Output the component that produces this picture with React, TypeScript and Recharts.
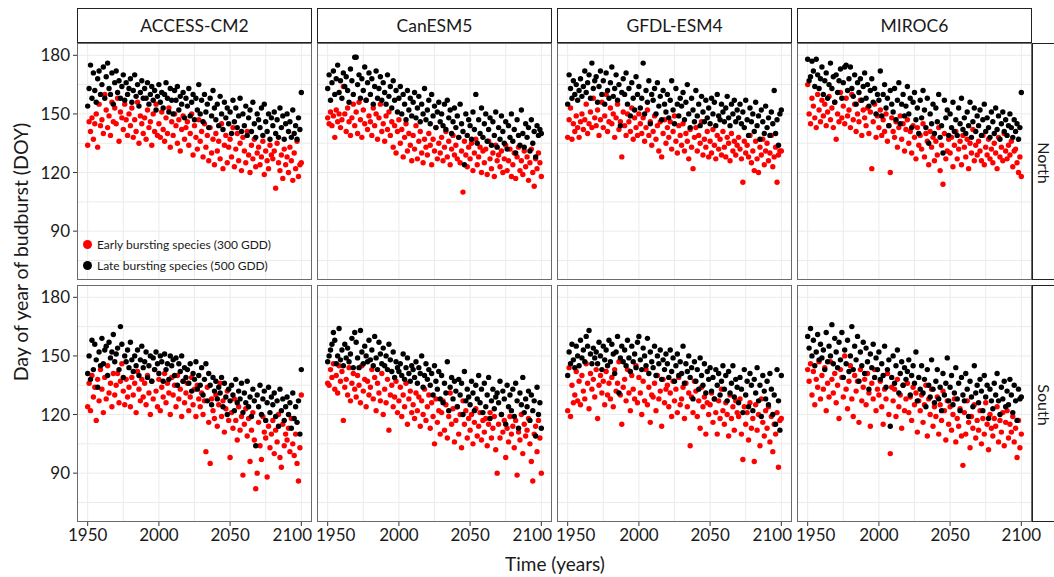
import { ScatterChart, Scatter, XAxis, YAxis, CartesianGrid } from 'recharts';

const YEARS = Array.from({ length: 151 }, (_, i) => 1950 + i);
const MODELS = ['ACCESS-CM2', 'CanESM5', 'GFDL-ESM4', 'MIROC6'];
const REGIONS = ['North', 'South'];
const X_TICKS = [1950, 2000, 2050, 2100];
const X_MINOR = [1975, 2025, 2075];
const Y_TICKS = [90, 120, 150, 180];
const Y_MINOR = [75, 105, 135, 165];

// day of year of budburst, one value per year 1950..2100
const accessNorthEarly = [
  134, 146, 141, 148, 137, 145, 150, 133, 155, 144,
  147, 140, 160, 152, 143, 149, 139, 156, 146, 153,
  145, 158, 136, 151, 148, 142, 155, 147, 139, 150,
  144, 153, 138, 147, 141, 156, 135, 149, 145, 140,
  148, 137, 152, 143, 146, 134, 150, 141, 155, 139,
  145, 138, 151, 142, 136, 148, 140, 153, 133, 146,
  139, 150, 144, 135, 147, 131, 142, 149, 137, 143,
  146, 134, 140, 150, 129, 144, 138, 132, 147, 136,
  141, 128, 145, 133, 139, 126, 143, 130, 137, 124,
  140, 131, 136, 127, 145, 122, 134, 139, 125, 133,
  137, 128, 143, 123, 132, 140, 126, 135, 121, 138,
  131, 125, 141, 129, 120, 134, 127, 137, 123, 130,
  133, 124, 128, 136, 119, 131, 126, 122, 134, 129,
  127, 131, 112, 135, 125, 121, 129, 117, 132, 124,
  128, 120, 133, 126, 116, 130, 122, 136, 118, 124,
  125,
];
const accessNorthLate = [
  154, 163, 175, 158, 171, 162, 156, 168, 172, 160,
  165, 174, 158, 169, 176, 163, 160, 171, 155, 166,
  172, 161, 167, 158, 164, 170, 157, 166, 160, 163,
  168, 156, 162, 170, 159, 165, 154, 161, 167, 158,
  163, 158, 166, 155, 160, 164, 157, 162, 152, 159,
  165, 156, 161, 153, 160, 166, 158, 151, 163, 157,
  150, 162, 157, 164, 152, 159, 155, 161, 148, 158,
  154, 163, 149, 156, 160, 147, 158, 152, 165, 150,
  157, 146, 160, 151, 155, 143, 158, 149, 162, 153,
  147, 155, 144, 159, 150, 142, 156, 148, 153, 145,
  151, 140, 157, 146, 153, 143, 149, 158, 141, 150,
  144, 154, 139, 148, 152, 141, 156, 145, 138, 150,
  147, 143, 153, 139, 155, 146, 141, 150, 137, 148,
  144, 151, 140, 147, 138, 153, 143, 149, 137, 145,
  150, 141, 146, 138, 152, 140, 144, 137, 148, 142,
  161,
];
const canNorthEarly = [
  148, 145, 151, 144, 149, 138, 152, 146, 150, 143,
  147, 164, 150, 141, 153, 146, 139, 148, 155, 144,
  151, 140, 156, 147, 138, 152, 145, 157, 142, 149,
  146, 139, 153, 144, 150, 137, 148, 155, 141, 145,
  136, 149, 142, 151, 139, 146, 133, 144, 130, 141,
  147, 135, 142, 128, 138, 145, 131, 140, 134, 126,
  139, 132, 144, 127, 136, 141, 130, 125, 137, 133,
  129, 140, 134, 124, 137, 131, 143, 127, 135, 130,
  138, 126, 133, 141, 128, 136, 124, 132, 139, 129,
  134, 127, 138, 125, 131, 110, 136, 129, 123, 133,
  127, 135, 121, 130, 137, 124, 128, 133, 120, 131,
  125, 132, 119, 136, 127, 122, 130, 118, 134, 126,
  129, 123, 131, 120, 127, 134, 121, 126, 132, 118,
  124, 130, 117, 128, 133, 121, 126, 119, 131, 123,
  128, 116, 125, 132, 120, 113, 127, 122, 130, 125,
  118,
];
const canNorthLate = [
  163, 170, 157, 166, 172, 160, 168, 175, 161, 167,
  158, 171, 164, 169, 162, 156, 173, 167, 160, 179,
  179, 165, 170, 158, 168, 162, 174, 157, 166, 171,
  160, 168, 155, 164, 172, 158, 163, 169, 157, 166,
  161, 155, 170, 159, 164, 153, 167, 157, 162, 151,
  158, 164, 150, 160, 155, 147, 162, 152, 158, 149,
  156, 161, 148, 153, 159, 146, 155, 150, 163, 147,
  152, 157, 145, 160, 149, 154, 143, 151, 156, 146,
  150, 144, 155, 142, 157, 148, 152, 140, 146, 153,
  143, 149, 138, 155, 145, 141, 124, 150, 139, 147,
  144, 137, 151, 142, 160, 135, 147, 140, 153, 138,
  145, 150, 136, 142, 148, 134, 146, 139, 151, 133,
  143, 137, 149, 141, 135, 146, 132, 144, 138, 150,
  136, 142, 130, 147, 139, 134, 152, 140, 133, 145,
  138, 143, 131, 147, 135, 141, 128, 144, 139, 142,
  140,
];
const gfdlNorthEarly = [
  138, 147, 153, 137, 145, 141, 149, 143, 138, 146,
  150, 142, 147, 155, 140, 145, 151, 143, 158, 148,
  144, 152, 139, 147, 156, 143, 149, 160, 141, 146,
  153, 145, 150, 138, 148, 155, 142, 146, 128, 151,
  144, 139, 150, 146, 141, 153, 137, 148, 143, 139,
  150, 145, 140, 148, 136, 143, 152, 139, 146, 134,
  141, 149, 137, 144, 131, 146, 128, 140, 147, 135,
  143, 138, 146, 132, 141, 149, 136, 130, 144, 139,
  134, 145, 131, 140, 136, 127, 142, 133, 122, 138,
  143, 131, 139, 135, 146, 129, 137, 133, 141, 128,
  136, 130, 142, 134, 127, 139, 132, 137, 129, 141,
  133, 128, 138, 135, 126, 140, 131, 136, 129, 134,
  138, 132, 127, 115, 136, 130, 134, 128, 139, 125,
  131, 121, 136, 127, 120, 133, 129, 137, 124, 131,
  135, 126, 130, 139, 123, 128, 133, 115, 129, 131,
  131,
];
const gfdlNorthLate = [
  155, 170, 163, 158, 167, 160, 165, 157, 162, 168,
  159, 164, 172, 161, 166, 170, 158, 176, 163, 167,
  169, 156, 164, 172, 160, 167, 155, 171, 162, 158,
  166, 174, 159, 163, 170, 157, 165, 144, 161, 168,
  160, 171, 155, 163, 149, 166, 158, 152, 169, 160,
  164, 153, 158, 176, 150, 162, 156, 167, 145, 160,
  157, 163, 150, 166, 154, 159, 147, 162, 155, 151,
  160, 148, 157, 167, 152, 145, 163, 155, 149, 158,
  154, 161, 147, 156, 165, 150, 143, 158, 152, 146,
  162, 149, 155, 144, 159, 151, 146, 157, 148, 153,
  145, 158, 150, 156, 144, 160, 149, 147, 155, 151,
  146, 153, 159, 148, 144, 155, 150, 157, 146, 152,
  148, 155, 145, 151, 143, 157, 147, 139, 153, 146,
  150, 141, 156, 144, 149, 137, 152, 146, 140, 154,
  143, 148, 139, 151, 145, 162, 140, 147, 134, 150,
  152,
];
const mirocNorthEarly = [
  165, 150, 145, 158, 154, 148, 143, 160, 152, 146,
  157, 149, 155, 144, 151, 159, 147, 153, 143, 156,
  137, 150, 146, 161, 148, 154, 145, 158, 149, 152,
  143, 160, 147, 155, 141, 150, 146, 157, 139, 152,
  148, 144, 153, 140, 151, 122, 146, 155, 138, 149,
  143, 152, 139, 147, 141, 150, 136, 144, 120, 148,
  141, 138, 146, 133, 143, 149, 137, 145, 131, 142,
  147, 135, 141, 130, 144, 138, 127, 143, 134, 139,
  132, 145, 128, 140, 136, 124, 141, 133, 138, 126,
  136, 129, 143, 121, 134, 114, 140, 127, 131, 137,
  130, 138, 123, 134, 141, 127, 132, 136, 124, 139,
  133, 128, 137, 122, 135, 130, 142, 126, 134, 129,
  136, 131, 126, 139, 124, 133, 129, 137, 127, 132,
  125, 135, 130, 122, 138, 128, 133, 126, 140, 131,
  127, 134, 129, 136, 123, 131, 132, 125, 120, 128,
  118,
];
const mirocNorthLate = [
  178, 167, 169, 177, 172, 164, 178, 170, 163, 168,
  174, 160, 167, 171, 158, 165, 176, 163, 169, 156,
  170, 161, 167, 173, 158, 166, 174, 175, 162, 168,
  174, 163, 159, 170, 155, 166, 161, 168, 157, 164,
  171, 158, 165, 154, 162, 168, 156, 163, 150, 160,
  157, 172, 149, 160, 165, 153, 158, 144, 162, 155,
  151, 163, 147, 157, 166, 145, 155, 160, 149, 154,
  164, 150, 158, 143, 156, 161, 147, 153, 140, 157,
  148, 162, 152, 143, 158, 135, 150, 145, 155, 140,
  153, 146, 160, 138, 144, 130, 157, 148, 152, 139,
  150, 143, 156, 141, 147, 139, 153, 145, 158, 142,
  148, 140, 151, 144, 156, 138, 146, 153, 141, 149,
  144, 152, 139, 147, 155, 141, 148, 143, 138, 151,
  146, 140, 153, 142, 149, 137, 145, 151, 141, 147,
  139, 144, 150, 143, 138, 147, 141, 145, 137, 143,
  161,
];
const accessSouthEarly = [
  124, 136, 122, 140, 129, 134, 117, 138, 127, 143,
  133, 121, 139, 128, 145, 131, 136, 124, 141, 130,
  135, 141, 126, 137, 146, 132, 125, 138, 129, 134,
  124, 139, 130, 136, 121, 142, 133, 127, 138, 129,
  136, 125, 140, 131, 120, 137, 128, 143, 132, 124,
  138, 122, 134, 129, 141, 126, 136, 131, 120, 139,
  130, 135, 124, 140, 128, 133, 119, 137, 126, 131,
  136, 122, 129, 139, 125, 133, 119, 135, 128, 124,
  131, 120, 127, 101, 134, 116, 95, 128, 122, 118,
  130, 114, 125, 136, 119, 127, 111, 123, 132, 117,
  98, 121, 113, 128, 117, 107, 124, 112, 119, 89,
  115, 123, 109, 118, 96, 112, 121, 107, 82, 90,
  116, 104, 97, 119, 111, 108, 88, 114, 103, 110,
  117, 100, 112, 106, 120, 98, 93, 115, 104, 110,
  107, 113, 101, 118, 105, 99, 110, 95, 86, 103,
  130,
];
const accessSouthLate = [
  141, 150, 138, 158, 143, 156, 148, 134, 152, 145,
  159, 146, 153, 155, 140, 157, 149, 152, 161, 147,
  151, 154, 143, 165, 156, 139, 150, 147, 153, 144,
  157, 148, 142, 150, 145, 153, 140, 148, 155, 144,
  147, 152, 139, 145, 150, 137, 149, 143, 152, 146,
  141, 150, 147, 137, 151, 143, 146, 138, 150, 145,
  148, 140, 149, 135, 146, 142, 150, 137, 144, 139,
  143, 136, 146, 132, 141, 138, 147, 133, 140, 135,
  144, 130, 138, 146, 127, 141, 135, 125, 139, 132,
  137, 128, 134, 131, 139, 124, 136, 129, 120, 133,
  127, 135, 130, 122, 138, 126, 132, 128, 136, 121,
  131, 126, 137, 124, 129, 119, 133, 127, 104, 130,
  124, 135, 120, 128, 132, 117, 126, 134, 121, 129,
  125, 131, 119, 127, 114, 133, 122, 128, 117, 124,
  129, 120, 126, 113, 131, 118, 124, 116, 127, 110,
  143,
];
const canSouthEarly = [
  136, 135, 143, 139, 146, 133, 140, 131, 145, 137,
  142, 117, 134, 138, 130, 144, 127, 136, 141, 133,
  129, 140, 135, 126, 145, 132, 138, 124, 137, 130,
  134, 143, 128, 139, 122, 136, 131, 127, 141, 120,
  133, 126, 138, 112, 130, 135, 124, 129, 137, 121,
  127, 134, 119, 130, 124, 136, 115, 128, 132, 121,
  125, 118, 131, 122, 129, 114, 127, 120, 133, 117,
  124, 130, 113, 126, 119, 105, 128, 116, 122, 110,
  121, 127, 112, 125, 108, 119, 131, 115, 123, 106,
  117, 124, 110, 120, 103, 127, 115, 122, 108, 118,
  112, 120, 105, 116, 123, 109, 114, 121, 107, 117,
  111, 118, 104, 115, 121, 108, 113, 119, 102, 90,
  115, 108, 120, 111, 117, 98, 113, 106, 119, 110,
  114, 103, 117, 89, 111, 107, 120, 100, 115, 109,
  112, 118, 105, 96, 86, 110, 114, 101, 117, 108,
  90,
];
const canSouthLate = [
  147, 150, 153, 156, 162, 158, 146, 150, 164, 148,
  153, 145, 156, 149, 154, 147, 151, 159, 144, 162,
  157, 149, 144, 163, 152, 146, 155, 150, 147, 158,
  148, 153, 145, 160, 149, 143, 157, 151, 146, 154,
  145, 150, 143, 156, 148, 142, 152, 139, 147, 144,
  142, 146, 140, 151, 138, 144, 149, 141, 137, 145,
  143, 139, 147, 136, 144, 141, 150, 134, 140, 146,
  138, 143, 135, 141, 130, 145, 137, 133, 142, 128,
  140, 126, 136, 131, 147, 122, 134, 139, 128, 137,
  132, 124, 138, 130, 136, 120, 142, 127, 133, 129,
  125, 137, 131, 122, 135, 128, 140, 126, 133, 121,
  136, 124, 130, 139, 118, 127, 133, 123, 129, 131,
  126, 137, 120, 132, 128, 115, 135, 124, 130, 122,
  133, 119, 136, 127, 113, 131, 125, 139, 121, 128,
  124, 132, 117, 130, 122, 127, 109, 134, 120, 126,
  113,
];
const gfdlSouthEarly = [
  122, 144, 119, 135, 126, 130, 142, 127, 137, 125,
  140, 132, 128, 146, 136, 123, 141, 133, 138, 129,
  143, 118, 135, 140, 131, 137, 125, 142, 130, 136,
  128, 139, 124, 143, 132, 136, 147, 130, 115, 134,
  138, 127, 143, 131, 122, 140, 133, 128, 145, 126,
  139, 131, 120, 137, 127, 143, 125, 134, 116, 130,
  129, 136, 122, 140, 128, 132, 114, 138, 126, 133,
  135, 124, 131, 119, 137, 127, 133, 121, 139, 125,
  128, 134, 118, 136, 124, 131, 104, 129, 121, 137,
  132, 119, 127, 113, 134, 124, 129, 110, 126, 120,
  125, 131, 116, 128, 121, 110, 127, 118, 133, 122,
  115, 126, 120, 109, 130, 118, 124, 112, 127, 121,
  119, 128, 110, 97, 124, 115, 121, 107, 126, 113,
  118, 96, 125, 112, 120, 104, 128, 116, 109, 122,
  113, 124, 106, 119, 101, 115, 110, 121, 93, 117,
  118,
];
const gfdlSouthLate = [
  140, 152, 146, 156, 148, 144, 155, 150, 145, 158,
  149, 153, 147, 160, 155, 163, 151, 146, 154, 149,
  152, 146, 157, 150, 143, 155, 148, 153, 145, 158,
  147, 156, 151, 141, 152, 160, 131, 149, 155, 147,
  153, 145, 158, 149, 142, 155, 147, 151, 144, 157,
  160, 148, 143, 154, 150, 145, 159, 141, 152, 147,
  144, 155, 140, 150, 146, 153, 138, 148, 143, 151,
  146, 139, 153, 142, 149, 137, 145, 151, 140, 147,
  141, 155, 136, 146, 142, 150, 139, 144, 128, 147,
  137, 143, 133, 149, 140, 135, 146, 131, 142, 138,
  144, 132, 139, 128, 143, 135, 141, 130, 137, 145,
  133, 140, 127, 142, 131, 136, 145, 129, 138, 134,
  126, 139, 133, 121, 143, 130, 137, 124, 141, 135,
  122, 138, 131, 144, 127, 135, 119, 140, 132, 128,
  137, 125, 141, 133, 120, 130, 115, 143, 127, 112,
  140,
];
const mirocSouthEarly = [
  143, 137, 146, 130, 142, 125, 138, 134, 147, 128,
  140, 133, 144, 122, 136, 129, 147, 138, 131, 141,
  126, 135, 118, 143, 139, 129, 150, 133, 123, 137,
  145, 128, 119, 140, 132, 137, 116, 143, 127, 134,
  138, 125, 141, 131, 114, 136, 128, 143, 122, 133,
  130, 137, 124, 115, 133, 128, 141, 120, 100, 134,
  127, 133, 119, 138, 124, 130, 113, 135, 122, 128,
  136, 121, 129, 117, 134, 125, 131, 111, 127, 122,
  130, 116, 125, 135, 109, 128, 120, 133, 114, 124,
  119, 129, 110, 125, 117, 132, 122, 107, 127, 115,
  124, 112, 120, 128, 106, 118, 114, 123, 109, 94,
  121, 110, 127, 116, 103, 119, 113, 125, 108, 117,
  112, 122, 105, 118, 110, 126, 115, 102, 120, 113,
  109, 118, 114, 124, 106, 117, 111, 121, 104, 116,
  122, 108, 115, 111, 119, 106, 113, 98, 117, 103,
  110,
];
const mirocSouthLate = [
  160, 154, 164, 150, 158, 145, 152, 161, 148, 156,
  149, 153, 143, 162, 147, 155, 150, 166, 146, 159,
  152, 144, 157, 148, 162, 139, 153, 146, 158, 142,
  150, 165, 143, 155, 148, 160, 137, 152, 145, 157,
  141, 154, 147, 133, 151, 144, 156, 139, 149, 143,
  152, 138, 146, 140, 155, 134, 143, 148, 114, 139,
  150, 136, 145, 153, 131, 141, 147, 135, 144, 138,
  142, 148, 130, 140, 145, 136, 152, 127, 139, 133,
  145, 131, 138, 124, 143, 135, 129, 148, 133, 126,
  137, 143, 128, 134, 122, 141, 130, 136, 149, 127,
  134, 140, 125, 131, 144, 128, 136, 122, 139, 130,
  127, 141, 133, 119, 137, 129, 124, 145, 131, 135,
  126, 138, 132, 122, 140, 129, 135, 118, 133, 127,
  123, 136, 130, 141, 127, 120, 134, 128, 137, 124,
  132, 125, 138, 130, 121, 135, 127, 117, 133, 128,
  129,
];

const EARLY = [
  [accessNorthEarly, canNorthEarly, gfdlNorthEarly, mirocNorthEarly],
  [accessSouthEarly, canSouthEarly, gfdlSouthEarly, mirocSouthEarly],
];
const LATE = [
  [accessNorthLate, canNorthLate, gfdlNorthLate, mirocNorthLate],
  [accessSouthLate, canSouthLate, gfdlSouthLate, mirocSouthLate],
];

const PLOT_W = 235;
const PLOT_H = 237;
const Y_AXIS_W = 77;
const X_AXIS_H = 40;
const FONT = 'Lato, "Open Sans", sans-serif';
const TICK_FONT = 17;

const toPoints = (vals: number[]) => vals.map((v, i) => ({ year: YEARS[i], doy: v }));

const dot = (color: string) => (props: any) => (
  <circle cx={props.cx} cy={props.cy} r={2.7} fill={color} />
);

// end labels nudged apart so neighbouring panels do not collide
const yearTick = (col: number) => (props: any) => {
  const v = props.payload.value;
  let dx = 0;
  if (v === 1950 && col > 0) dx = 8;
  if (v === 2100 && col < 3) dx = -9;
  return (
    <text x={props.x + dx} y={props.y} dy="0.75em" textAnchor="middle" fill="#1a1a1a" fontSize={TICK_FONT}>
      {v}
    </text>
  );
};

function Panel({ row, col }: { row: number; col: number }) {
  const showY = col === 0;
  const showX = row === 1;
  const w = PLOT_W + (showY ? Y_AXIS_W : 0);
  const h = PLOT_H + (showX ? X_AXIS_H : 0);
  const left = 77 + col * 240 - (showY ? Y_AXIS_W : 0);
  const top = 43 + row * 242;
  return (
    <div style={{ position: 'absolute', left, top, width: w, height: h }}>
      <ScatterChart width={w} height={h} margin={{ top: 0, right: 0, bottom: 0, left: 0 }}>
        <CartesianGrid
          stroke="#ebebeb"
          horizontalValues={[...Y_MINOR, ...Y_TICKS]}
          verticalValues={[...X_MINOR, ...X_TICKS]}
        />
        <XAxis
          type="number"
          dataKey="year"
          domain={[1942.5, 2107.5]}
          ticks={X_TICKS}
          interval={0}
          hide={!showX}
          height={X_AXIS_H}
          axisLine={false}
          tickLine={{ stroke: '#333' }}
          tickSize={4}
          tickMargin={2}
          tick={yearTick(col)}
          allowDataOverflow
        />
        <YAxis
          type="number"
          dataKey="doy"
          domain={[65, 186.3]}
          ticks={Y_TICKS}
          interval={0}
          hide={!showY}
          width={Y_AXIS_W}
          axisLine={false}
          tickLine={{ stroke: '#333' }}
          tickSize={4}
          tickMargin={3}
          tick={{ fill: '#1a1a1a', fontSize: TICK_FONT }}
          allowDataOverflow
        />
        <Scatter data={toPoints(EARLY[row][col])} fill="#ff0000" shape={dot('#ff0000')} isAnimationActive={false} />
        <Scatter data={toPoints(LATE[row][col])} fill="#000000" shape={dot('#000000')} isAnimationActive={false} />
      </ScatterChart>
      <div
        style={{
          position: 'absolute',
          left: showY ? Y_AXIS_W : 0,
          top: 0,
          width: PLOT_W,
          height: PLOT_H,
          border: '1px solid #6b6b6b',
          boxSizing: 'border-box',
          pointerEvents: 'none',
        }}
      />
    </div>
  );
}

export default function App() {
  return (
    <div
      style={{
        position: 'absolute',
        left: 0,
        top: 0,
        width: 1054,
        height: 577,
        overflow: 'hidden',
        background: '#fff',
        fontFamily: FONT,
        color: '#1a1a1a',
      }}
    >
      <style>{'.recharts-surface { overflow: visible; } .recharts-wrapper { overflow: visible; }'}</style>
      {MODELS.map((m, c) => (
        <div
          key={m}
          style={{
            position: 'absolute',
            left: 77 + c * 240,
            top: 8,
            width: PLOT_W,
            height: 35,
            border: '1px solid #222',
            boxSizing: 'border-box',
            display: 'flex',
            alignItems: 'center',
            justifyContent: 'center',
            fontSize: 17.5,
          }}
        >
          {m}
        </div>
      ))}
      {REGIONS.map((r, i) => (
        <div
          key={r}
          style={{
            position: 'absolute',
            left: 1032,
            top: 43 + i * 242,
            width: 30,
            height: PLOT_H,
            border: '1px solid #222',
            boxSizing: 'border-box',
          }}
        >
          <div
            style={{
              position: 'absolute',
              left: 11 - 40,
              top: PLOT_H / 2 - 10,
              width: 80,
              height: 20,
              lineHeight: '20px',
              textAlign: 'center',
              fontSize: 16,
              transform: 'rotate(90deg)',
            }}
          >
            {r}
          </div>
        </div>
      ))}
      {[0, 1].map((row) => [0, 1, 2, 3].map((col) => <Panel key={`${row}-${col}`} row={row} col={col} />))}
      <div style={{ position: 'absolute', left: 83, top: 234, fontSize: 12, lineHeight: '21px' }}>
        <div style={{ display: 'flex', alignItems: 'center' }}>
          <span style={{ width: 9, height: 9, borderRadius: '50%', background: '#ff0000', marginRight: 5 }} />
          Early bursting species (300 GDD)
        </div>
        <div style={{ display: 'flex', alignItems: 'center' }}>
          <span style={{ width: 9, height: 9, borderRadius: '50%', background: '#000', marginRight: 5 }} />
          Late bursting species (500 GDD)
        </div>
      </div>
      <div
        style={{
          position: 'absolute',
          left: 21 - 200,
          top: 252 - 13,
          width: 400,
          height: 26,
          lineHeight: '26px',
          textAlign: 'center',
          fontSize: 19.5,
          transform: 'rotate(-90deg)',
        }}
      >
        Day of year of budburst (DOY)
      </div>
      <div
        style={{
          position: 'absolute',
          left: 355,
          top: 552,
          width: 400,
          textAlign: 'center',
          fontSize: 19,
          lineHeight: '24px',
        }}
      >
        Time (years)
      </div>
    </div>
  );
}
